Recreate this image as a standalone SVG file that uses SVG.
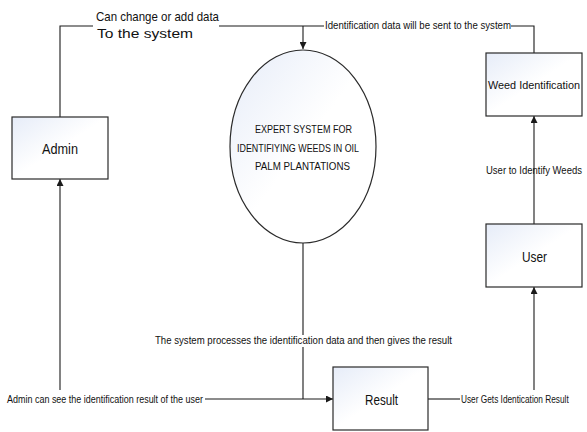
<svg xmlns="http://www.w3.org/2000/svg" width="587" height="432" viewBox="0 0 587 432">
<style>
.line{fill:none;stroke:#1a1a1a;stroke-width:1.1}
.box{fill:url(#g);stroke:#2a2a2a;stroke-width:1.2}
text{font-family:"Liberation Sans",Arial,sans-serif;fill:#111}
.lbl{font-size:10px}
.big{font-size:13px}
.node{font-size:14px}
</style>
<defs>
<linearGradient id="g" x1="0" y1="0" x2="1" y2="1">
<stop offset="0" stop-color="#e6ecf8"/>
<stop offset="0.5" stop-color="#ffffff"/>
</linearGradient>
<marker id="arr" viewBox="0 0 10 10" refX="10" refY="5" markerWidth="7" markerHeight="7" markerUnits="userSpaceOnUse" orient="auto">
<path d="M0,0 L10,5 L0,10 z" fill="#1a1a1a"/>
</marker>
</defs>
<g id="connectors">
<path class="line" d="M60,117 V26 H93"/>
<path class="line" d="M219,26 H324"/>
<path class="line" d="M303,26 V49" marker-end="url(#arr)"/>
<path class="line" d="M511,26 H534 V53"/>
<path class="line" d="M534,224 V116" marker-end="url(#arr)"/>
<path class="line" d="M534,390 V287" marker-end="url(#arr)"/>
<path class="line" d="M428,399 H460"/>
<path class="line" d="M60,390 V179" marker-end="url(#arr)"/>
<path class="line" d="M205,399 H333" marker-end="url(#arr)"/>
<path class="line" d="M303,243 V335 M303,347 V399"/>
<text class="big" x="96" y="21" textLength="123" lengthAdjust="spacingAndGlyphs">Can change or add data</text>
<text class="big" x="97" y="38" textLength="96" lengthAdjust="spacingAndGlyphs">To the system</text>
<text class="lbl" x="325" y="29" textLength="186" lengthAdjust="spacingAndGlyphs">Identification data will be sent to the system</text>
<text class="lbl" x="486" y="174" textLength="96" lengthAdjust="spacingAndGlyphs">User to Identify Weeds</text>
<text class="lbl" x="155" y="344" textLength="297" lengthAdjust="spacingAndGlyphs">The system processes the identification data and then gives the result</text>
<text class="lbl" x="7" y="403" textLength="196" lengthAdjust="spacingAndGlyphs">Admin can see the identification result of the user</text>
<text class="lbl" transform="translate(461,403) scale(0.83,1)" x="0" y="0">User Gets Identication Result</text>
</g>
<g id="admin">
<rect class="box" x="12" y="117" width="96" height="62"/>
<text class="node" x="42" y="154" textLength="36" lengthAdjust="spacingAndGlyphs">Admin</text>
</g>
<g id="system">
<ellipse class="box" cx="303" cy="146.5" rx="73" ry="96.5"/>
<text x="255" y="133" font-size="11" textLength="97" lengthAdjust="spacingAndGlyphs">EXPERT SYSTEM FOR</text>
<text x="237" y="152" font-size="11" textLength="122" lengthAdjust="spacingAndGlyphs">IDENTIFIYING WEEDS IN OIL</text>
<text x="255" y="170" font-size="11" textLength="95" lengthAdjust="spacingAndGlyphs">PALM PLANTATIONS</text>
</g>
<g id="weed-identification">
<rect class="box" x="486" y="53" width="96" height="63"/>
<text x="488" y="89" font-size="11.5" textLength="92" lengthAdjust="spacingAndGlyphs">Weed Identification</text>
</g>
<g id="user">
<rect class="box" x="486" y="224" width="96" height="63"/>
<text class="node" x="522" y="262" textLength="25" lengthAdjust="spacingAndGlyphs">User</text>
</g>
<g id="result">
<rect class="box" x="333" y="367" width="95" height="63"/>
<text class="node" x="365" y="405" textLength="33" lengthAdjust="spacingAndGlyphs">Result</text>
</g>
</svg>
